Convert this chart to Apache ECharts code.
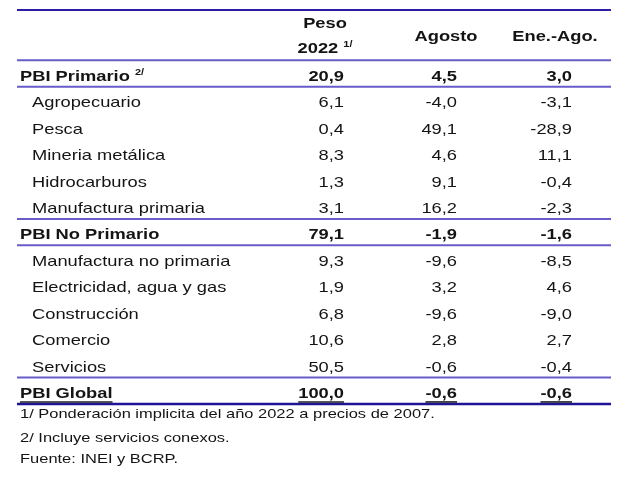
<!DOCTYPE html>
<html>
<head>
<meta charset="utf-8">
<script src="https://cdn.jsdelivr.net/npm/echarts@6/dist/echarts.min.js"></script>
<style>
  html, body { margin: 0; padding: 0; background: #fff; }
  #chart { width: 631px; height: 478px; }
</style>
</head>
<body>
<div id="chart"></div>
<script>
// table content
const rowLabels = [
  'PBI Primario', 'Agropecuario', 'Pesca', 'Mineria metálica', 'Hidrocarburos',
  'Manufactura primaria', 'PBI No Primario', 'Manufactura no primaria',
  'Electricidad, agua y gas', 'Construcción', 'Comercio', 'Servicios', 'PBI Global'
];
const rowNotes = ['2/', '', '', '', '', '', '', '', '', '', '', '', ''];
const rowIsTotal = [true, false, false, false, false, false, true, false, false, false, false, false, true];
const pesoValues = [20.9, 6.1, 0.4, 8.3, 1.3, 3.1, 79.1, 9.3, 1.9, 6.8, 10.6, 50.5, 100.0];
const agostoValues = [4.5, -4.0, 49.1, 4.6, 9.1, 16.2, -1.9, -9.6, 3.2, -9.6, 2.8, -0.6, -0.6];
const eneAgoValues = [3.0, -3.1, -28.9, 11.1, -0.4, -2.3, -1.6, -8.5, 4.6, -9.0, 2.7, -0.4, -0.6];
const columnHeaders = ['Peso', 'Agosto', 'Ene.-Ago.'];
const pesoYear = '2022';
const pesoNote = '1/';
const footnotes = [
  '1/ Ponderación implicita del año 2022 a precios de 2007.',
  '2/ Incluye servicios conexos.',
  'Fuente: INEI y BCRP.'
];

// layout (axis units: x = px from grid left, y = row units)
const FONT = '"Liberation Sans", Arial, sans-serif';
const FS = 15;
const SX = 1.22; // the picture is stretched sideways
const FIRST_ROW = 2;
const ROW_MID = 0.62;
const colX = { label: 3, indent: 15, peso: 327, agosto: 440, ene: 555 };
const headX = { peso: 308, agosto: 429, ene: 538 };
const headY = { top: 0.63, bottom: 1.58, mid: 1.1 };
const footY = [15.39, 16.3, 17.1];
const TEXT = '#141414';

const fmt = v => v.toFixed(1).replace('.', ',');

const ctx = document.createElement('canvas').getContext('2d');
function textWidth(str, bold, size) {
  ctx.font = (bold ? 'bold ' : '') + size + 'px ' + FONT;
  return ctx.measureText(str).width * SX;
}

function txt(p, str, align, bold, size, rich) {
  return {
    type: 'text',
    x: p[0],
    y: p[1],
    scaleX: SX,
    style: {
      text: str,
      rich: rich,
      textAlign: align,
      textVerticalAlign: 'middle',
      fontFamily: FONT,
      fontSize: size || FS,
      fontWeight: bold ? 'bold' : 'normal',
      fill: TEXT
    }
  };
}

const supRich = {
  m: { fontFamily: FONT, fontSize: FS, fontWeight: 'bold', lineHeight: 18, fill: TEXT },
  s: { fontFamily: FONT, fontSize: 9, fontWeight: 'bold', verticalAlign: 'top', fill: TEXT }
};

// rules: top, then above and below every total row
const ruleRows = [0.1];
rowIsTotal.forEach((t, i) => { if (t) ruleRows.push(FIRST_ROW + i, FIRST_ROW + i + 1); });
const lastRule = ruleRows[ruleRows.length - 1];

function renderRule(params, api) {
  const v = api.value(0);
  const a = api.coord([0, v]);
  const b = api.coord([594, v]);
  let color = '#6a5cc8';
  if (v === ruleRows[0]) color = '#2b1ea6';
  if (v === lastRule) color = '#1f1396';
  return {
    type: 'line',
    shape: { x1: a[0], y1: a[1], x2: b[0], y2: b[1] },
    style: { stroke: color, lineWidth: v === lastRule ? 2.5 : 2 }
  };
}

function renderRow(params, api) {
  const i = api.value(0);
  const y = FIRST_ROW + i + ROW_MID;
  const bold = rowIsTotal[i];
  const children = [];
  const lx = bold ? colX.label : colX.indent;
  if (rowNotes[i]) {
    children.push(txt(api.coord([lx, y]), '{m|' + rowLabels[i] + ' }{s|' + rowNotes[i] + '}', 'left', bold, FS, supRich));
  } else {
    children.push(txt(api.coord([lx, y]), rowLabels[i], 'left', bold));
  }
  const cells = [
    [colX.peso, fmt(pesoValues[i])],
    [colX.agosto, fmt(agostoValues[i])],
    [colX.ene, fmt(eneAgoValues[i])]
  ];
  cells.forEach(c => children.push(txt(api.coord([c[0], y]), c[1], 'right', bold)));

  // last total row is underlined
  if (i === rowLabels.length - 1) {
    const p = api.coord([lx, y]);
    const uy = p[1] + 8;
    const w0 = textWidth(rowLabels[i], true, FS);
    children.push({ type: 'line', shape: { x1: p[0], y1: uy, x2: p[0] + w0, y2: uy }, style: { stroke: '#222', lineWidth: 1.6 } });
    cells.forEach(c => {
      const q = api.coord([c[0], y]);
      const w = textWidth(c[1], true, FS);
      children.push({ type: 'line', shape: { x1: q[0] - w, y1: uy, x2: q[0], y2: uy }, style: { stroke: '#222', lineWidth: 1.6 } });
    });
  }
  return { type: 'group', children: children };
}

function renderHeader(params, api) {
  return {
    type: 'group',
    children: [
      txt(api.coord([headX.peso, headY.top]), columnHeaders[0], 'center', true),
      txt(api.coord([headX.peso, headY.bottom]), '{m|' + pesoYear + ' }{s|' + pesoNote + '}', 'center', true, FS, supRich),
      txt(api.coord([headX.agosto, headY.mid]), columnHeaders[1], 'center', true),
      txt(api.coord([headX.ene, headY.mid]), columnHeaders[2], 'center', true)
    ]
  };
}

function renderFoot(params, api) {
  const i = api.value(0);
  return txt(api.coord([colX.label, footY[i]]), footnotes[i], 'left', false, 13.5);
}

const chart = echarts.init(document.getElementById('chart'), null, { renderer: 'canvas' });
chart.setOption({
  animation: false,
  backgroundColor: '#fff',
  grid: { left: 17, right: 20, top: 10, bottom: 74 },
  xAxis: { type: 'value', min: 0, max: 594, show: false },
  yAxis: { type: 'value', min: 0.1, max: 15, inverse: true, show: false },
  series: [
    { type: 'custom', renderItem: renderRule, data: ruleRows.map(v => [v]), silent: true },
    { type: 'custom', renderItem: renderHeader, data: [[0]], silent: true },
    { type: 'custom', renderItem: renderRow, data: rowLabels.map((_, i) => [i]), silent: true },
    { type: 'custom', renderItem: renderFoot, data: footnotes.map((_, i) => [i]), silent: true, clip: false }
  ]
});
</script>
</body>
</html>
